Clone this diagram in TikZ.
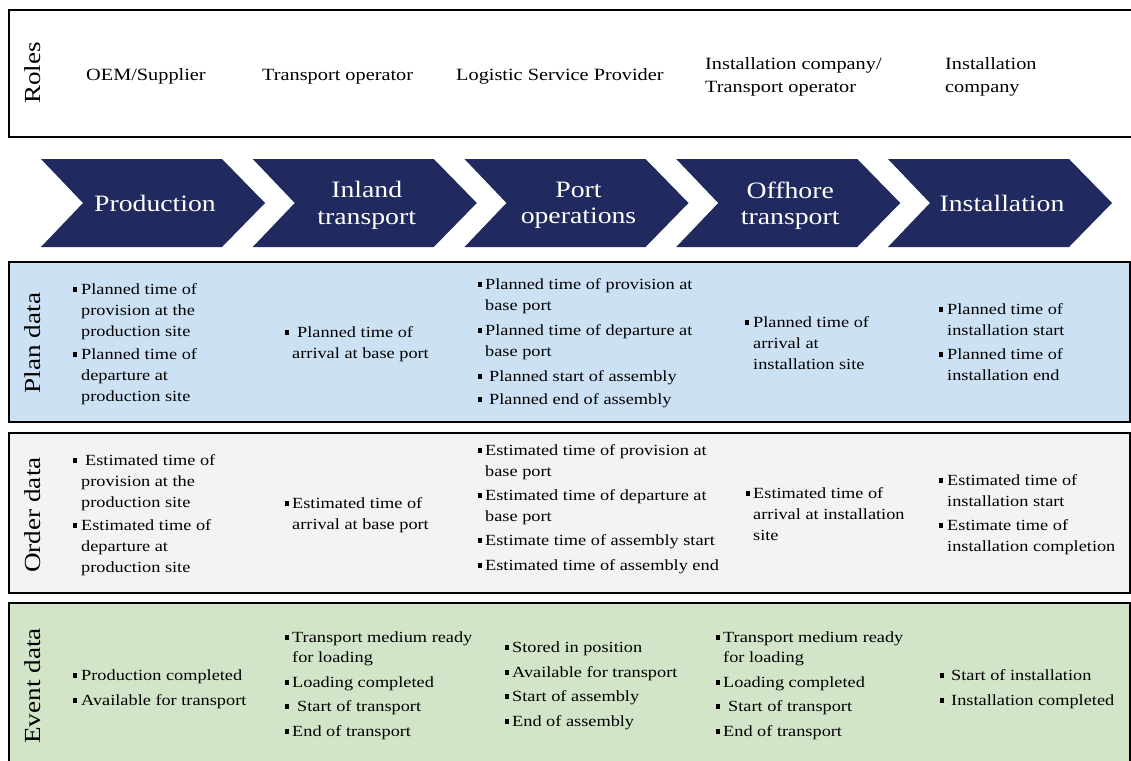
\documentclass[tikz,border=0pt]{standalone}
\usepackage{fontspec}
\setmainfont{Liberation Serif}[FakeStretch=1.18]
\definecolor{navy}{RGB}{32,42,94}
\definecolor{planblue}{RGB}{204,226,244}
\definecolor{ordergray}{RGB}{242,243,245}
\definecolor{eventgreen}{RGB}{211,229,200}
\newcounter{tn}
\newcommand\Tx[3]{\stepcounter{tn}\node[txt] (t\thetn) at (#1,#2) {#3};}
\newcommand\It[4]{\stepcounter{tn}\node[bul] (b\thetn) at (#1,#3-4.5) {};\Tx{#2}{#3}{#4}}
\newcommand\Chev[3]{\fill[navy] (#1,159) -- (#1+181,159) -- (#1+224,203) -- (#1+181,247) -- (#1,247) -- (#1+42,203) -- cycle;
  \stepcounter{tn}\node[chevtxt] (c\thetn) at (#1+114,#2) {#3};}
\begin{document}
\begin{tikzpicture}[x=1pt,y=-1pt,
  txt/.style={anchor=base west,inner sep=0pt,font=\fontsize{15.5}{18}\selectfont},
  roletxt/.style={anchor=base west,inner sep=0pt,align=left,font=\fontsize{17.2}{23}\selectfont},
  bul/.style={rectangle,fill=black,inner sep=0pt,minimum size=4.5pt},
  chevtxt/.style={text=white,align=center,inner sep=0pt,font=\fontsize{23.5}{26.5}\selectfont},
  lab/.style={rotate=90,inner sep=0pt,font=\fontsize{23}{26}\selectfont},
  band/.style={draw=black,line width=1.5pt}]
\useasboundingbox (0,0) rectangle (1131,760);
\fill[white] (0,0) rectangle (1131,760);
% bands
\draw[band,fill=white] (9,10) rectangle (1145,137);
\draw[band,fill=planblue] (9,262) rectangle (1130,422);
\draw[band,fill=ordergray] (9,433) rectangle (1130,593);
\draw[band,fill=eventgreen] (9,603) rectangle (1130,775);
% labels
\node[lab] (lroles) at (33,73) {Roles};
\node[lab] (lplan) at (33,343) {Plan data};
\node[lab] (lorder) at (33,515) {Order data};
\node[lab] (levent) at (33,686) {Event data};
% roles
\node[roletxt] (r1) at (86,81) {OEM/Supplier};
\node[roletxt] (r2) at (262,81) {Transport operator};
\node[roletxt] (r3) at (456,81) {Logistic Service Provider};
\node[roletxt] (r4a) at (705,69) {Installation company/};
\node[roletxt] (r4b) at (705,92) {Transport operator};
\node[roletxt] (r5a) at (945,69) {Installation};
\node[roletxt] (r5b) at (945,92) {company};
% chevrons
\Chev{41}{203}{Production}
\Chev{252.75}{205.5}{Inland\\transport}
\Chev{464.5}{205.5}{Port\\operations}
\Chev{676.25}{205.5}{Offhore\\transport}
\Chev{888}{203.5}{Installation}
% plan data
\It{75}{81}{294}{Planned time of}
\Tx{81}{315}{provision at the}
\Tx{81}{336}{production site}
\It{75}{81}{359}{Planned time of}
\Tx{81}{380}{departure at}
\Tx{81}{401}{production site}
\It{287}{297}{337}{Planned time of}
\Tx{292}{358}{arrival at base port}
\It{480}{485}{289}{Planned time of provision at}
\Tx{485}{310}{base port}
\It{480}{485}{335}{Planned time of departure at}
\Tx{485}{356}{base port}
\It{480}{489}{381}{Planned start of assembly}
\It{480}{489}{404}{Planned end of assembly}
\It{747}{753}{327}{Planned time of}
\Tx{753}{348}{arrival at}
\Tx{753}{369}{installation site}
\It{941}{947}{314}{Planned time of}
\Tx{947}{335}{installation start}
\It{941}{947}{359}{Planned time of}
\Tx{947}{380}{installation end}
% order data
\It{75}{85}{465}{Estimated time of}
\Tx{81}{486}{provision at the}
\Tx{81}{507}{production site}
\It{75}{81}{530}{Estimated time of}
\Tx{81}{551}{departure at}
\Tx{81}{572}{production site}
\It{287}{292}{508}{Estimated time of}
\Tx{292}{529}{arrival at base port}
\It{480}{485}{455}{Estimated time of provision at}
\Tx{485}{476}{base port}
\It{480}{485}{500}{Estimated time of departure at}
\Tx{485}{521}{base port}
\It{480}{485}{545}{Estimate time of assembly start}
\It{480}{485}{570}{Estimated time of assembly end}
\It{748}{753}{498}{Estimated time of}
\Tx{753}{519}{arrival at installation}
\Tx{753}{540}{site}
\It{941}{947}{485}{Estimated time of}
\Tx{947}{506}{installation start}
\It{941}{947}{530}{Estimate time of}
\Tx{947}{551}{installation completion}
% event data
\It{75}{81}{680}{Production completed}
\It{75}{81}{705}{Available for transport}
\It{287}{292}{642}{Transport medium ready}
\Tx{292}{662}{for loading}
\It{287}{292}{687}{Loading completed}
\It{287}{297}{711}{Start of transport}
\It{287}{292}{736}{End of transport}
\It{507}{512}{652}{Stored in position}
\It{507}{512}{677}{Available for transport}
\It{507}{512}{701}{Start of assembly}
\It{507}{512}{726}{End of assembly}
\It{718}{723}{642}{Transport medium ready}
\Tx{723}{662}{for loading}
\It{718}{723}{687}{Loading completed}
\It{718}{728}{711}{Start of transport}
\It{718}{723}{736}{End of transport}
\It{942}{951}{680}{Start of installation}
\It{942}{951}{705}{Installation completed}
\end{tikzpicture}
\end{document}
